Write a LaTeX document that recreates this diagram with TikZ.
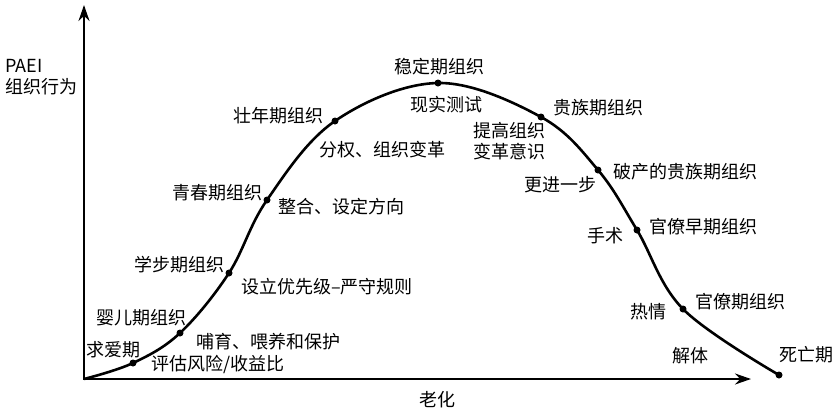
\documentclass[tikz,border=0pt]{standalone}
\usepackage{fontspec}
\setmainfont{Noto Sans CJK SC}
\usetikzlibrary{arrows.meta}

\begin{document}
\begin{tikzpicture}[x=1pt, y=-1pt, >={Stealth[length=16pt,width=11pt]},
  lbl/.style={font=\fontsize{18}{21}\selectfont, inner sep=0pt, align=center},
  dot/.style={circle, fill, inner sep=0pt, minimum size=7pt},
  axis/.style={line width=2.4pt, line join=miter}]
  \useasboundingbox (0,0) rectangle (839,418);
  % axes
  \coordinate (o) at (84,379);
  \coordinate (ytip) at (84,5);
  \coordinate (xtip) at (751,379);
  \draw[axis, <->] (ytip) -- (o) -- (xtip);
  \node[lbl, anchor=west, align=left] (yl) at (5,77) {PAEI\\组织行为};
  \node[lbl] (xl) at (437,400) {老化};
  % stages on the curve
  \node[dot] (court) at (133,363) {};
  \node[dot] (infant) at (180,333) {};
  \node[dot] (gogo) at (229,273) {};
  \node[dot] (adol) at (267,200) {};
  \node[dot] (prime) at (335,121) {};
  \node[dot] (stable) at (438,83) {};
  \node[dot] (aristo) at (541,117) {};
  \node[dot] (recrim) at (598,170) {};
  \node[dot] (earlyb) at (637,230) {};
  \node[dot] (bureau) at (683,309) {};
  \node[dot] (death) at (779,375) {};
  \draw[line width=2.6pt] plot[smooth, tension=0.6] coordinates {(o) (court) (infant) (gogo) (adol) (prime) (stable) (aristo) (recrim) (earlyb) (bureau) (death)};
  % stage names
  \node[lbl] at (113,350) {求爱期};
  \node[lbl] at (141,318) {婴儿期组织};
  \node[lbl] at (179,265) {学步期组织};
  \node[lbl] at (217,193) {青春期组织};
  \node[lbl] at (278,116) {壮年期组织};
  \node[lbl] at (439,67) {稳定期组织};
  \node[lbl] at (598,108) {贵族期组织};
  \node[lbl] at (685,172) {破产的贵族期组织};
  \node[lbl] at (703,227) {官僚早期组织};
  \node[lbl] at (740,302) {官僚期组织};
  \node[lbl] at (806,355) {死亡期};
  % tasks
  \node[lbl] at (218,364) {评估风险/收益比};
  \node[lbl] at (268,342) {哺育、喂养和保护};
  \node[lbl] at (327,287) {设立优先级–严守规则};
  \node[lbl] at (341,207) {整合、设定方向};
  \node[lbl] at (382,150) {分权、组织变革};
  \node[lbl] at (446,105) {现实测试};
  \node[lbl] at (509,141.5) {提高组织\\变革意识};
  \node[lbl] at (560,185) {更进一步};
  \node[lbl] at (605,236) {手术};
  \node[lbl] at (648,312) {热情};
  \node[lbl] at (690,356) {解体};
\end{tikzpicture}
\end{document}
